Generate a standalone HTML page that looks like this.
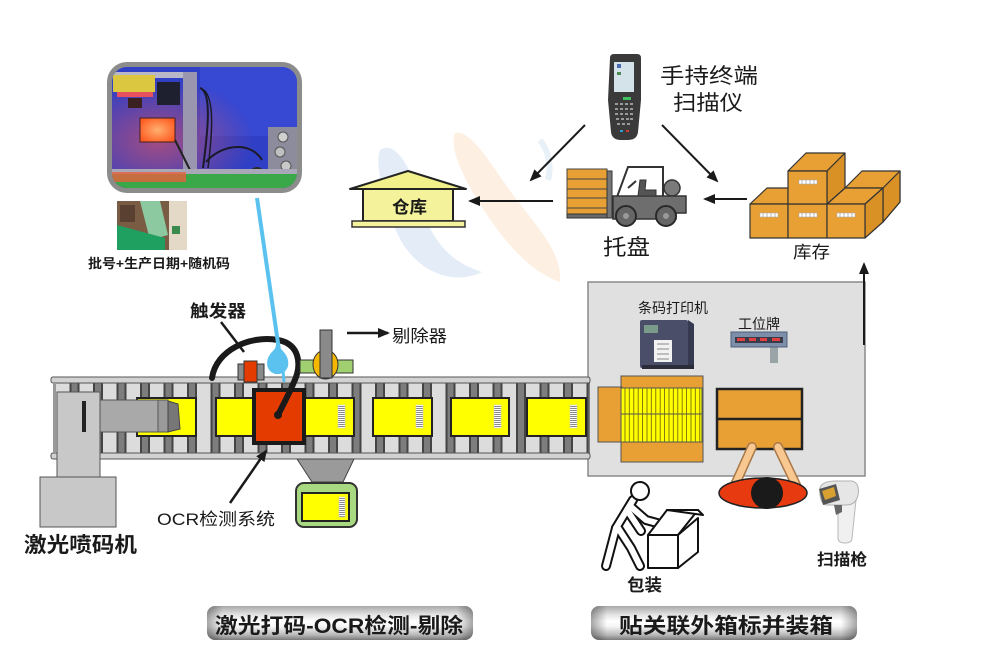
<!DOCTYPE html>
<html><head><meta charset="utf-8">
<style>
html,body{margin:0;padding:0;background:#fff;}
svg{display:block;}
text{font-family:"Liberation Sans","Noto Sans CJK SC","WenQuanYi Zen Hei",sans-serif;fill:#1a1a1a;}
</style></head><body>
<svg width="982" height="660" viewBox="0 0 982 660" xmlns="http://www.w3.org/2000/svg">
<defs>
 <pattern id="roll" x="140" y="0" width="23.5" height="200" patternUnits="userSpaceOnUse">
   <rect x="0" y="0" width="23.5" height="200" fill="#dcdcdc"/>
   <rect x="0" y="0" width="2" height="200" fill="#444"/>
   <rect x="2" y="0" width="6" height="200" fill="#7d7d7d"/>
   <rect x="8" y="0" width="2" height="200" fill="#444"/>
 </pattern>
 <pattern id="bc" x="0" y="0" width="10" height="2" patternUnits="userSpaceOnUse">
   <rect width="10" height="2" fill="#fff"/>
   <rect y="0" width="10" height="1" fill="#8a8a8a"/>
 </pattern>
 <pattern id="stripes" x="621" y="0" width="4.4" height="10" patternUnits="userSpaceOnUse">
   <rect width="4.4" height="10" fill="#ffff00"/>
   <rect x="3.6" width="0.8" height="10" fill="#6a5a10"/>
 </pattern>
 <linearGradient id="btnv" x1="0" y1="0" x2="0" y2="1">
   <stop offset="0" stop-color="#a8a8a8"/>
   <stop offset="0.25" stop-color="#e2e2e2"/>
   <stop offset="0.45" stop-color="#ffffff"/>
   <stop offset="0.6" stop-color="#f6f6f6"/>
   <stop offset="0.85" stop-color="#b8b8b8"/>
   <stop offset="1" stop-color="#7a7a7a"/>
 </linearGradient>
 <linearGradient id="btnh" x1="0" y1="0" x2="1" y2="0">
   <stop offset="0" stop-color="#000" stop-opacity="0.35"/>
   <stop offset="0.06" stop-color="#000" stop-opacity="0"/>
   <stop offset="0.94" stop-color="#000" stop-opacity="0"/>
   <stop offset="1" stop-color="#000" stop-opacity="0.35"/>
 </linearGradient>
 <radialGradient id="glow" cx="0.25" cy="0.6" r="0.5">
   <stop offset="0" stop-color="#c05070" stop-opacity="0.8"/>
   <stop offset="1" stop-color="#c05070" stop-opacity="0"/>
 </radialGradient>
 <radialGradient id="olight" cx="0.5" cy="0.5" r="0.6">
   <stop offset="0" stop-color="#ffb070"/>
   <stop offset="1" stop-color="#ff5a20"/>
 </radialGradient>
 <clipPath id="ph"><rect x="112" y="67" width="185" height="121" rx="15"/></clipPath>
 <marker id="ah" markerWidth="12" markerHeight="10" refX="10" refY="5" orient="auto" markerUnits="userSpaceOnUse">
   <path d="M0,0 L12,5 L0,10 Z" fill="#1a1a1a"/>
 </marker>
</defs>

<rect width="982" height="660" fill="#fff"/>

<!-- watermark -->
<path d="M380,150 C395,140 410,165 420,200 C430,240 450,262 482,272 C450,288 410,268 395,228 C385,198 374,166 380,150 Z" fill="#e4edf7"/>
<path d="M455,133 C472,128 495,172 520,204 C545,236 562,256 560,282 C530,272 505,242 485,212 C468,186 448,150 455,133 Z" fill="#fdf0e2"/>
<path d="M540,140 C548,150 552,165 548,180" stroke="#e8f0f8" stroke-width="6" fill="none"/>

<!-- photo -->
<rect x="107" y="62" width="195" height="131" rx="20" fill="#8c8c8c"/>
<g clip-path="url(#ph)">
  <rect x="111" y="66" width="190" height="125" fill="#2f3fc6"/>
  <rect x="200" y="66" width="100" height="70" fill="#3748d2"/>
  <rect x="111" y="66" width="190" height="125" fill="url(#glow)"/>
  <rect x="113" y="72" width="78" height="6" fill="#b8b8c8"/>
  <rect x="113" y="75" width="42" height="17" fill="#dcc840"/>
  <rect x="117" y="92" width="36" height="5" fill="#e85060"/>
  <rect x="128" y="98" width="14" height="10" fill="#3a2020"/>
  <rect x="157" y="82" width="23" height="23" fill="#1e2030"/>
  <rect x="183" y="72" width="14" height="100" fill="#9a96b0"/>
  <rect x="140" y="118" width="35" height="24" fill="url(#olight)" stroke="#402020" stroke-width="1"/>
  <path d="M175,140 C180,150 185,160 190,170" stroke="#222" stroke-width="2" fill="none"/>
  <path d="M200,88 C212,92 208,130 203,168" stroke="#1a1a2a" stroke-width="2" fill="none"/>
  <path d="M204,90 C215,100 212,135 208,168" stroke="#1a1a2a" stroke-width="1.5" fill="none"/>
  <path d="M206,162 C220,145 250,140 262,160" stroke="#1a1a2a" stroke-width="2" fill="none"/>
  <rect x="268" y="127" width="30" height="58" fill="#8c8c9c"/>
  <circle cx="283" cy="137" r="5" fill="#d0d0d0" stroke="#555"/>
  <circle cx="280" cy="152" r="5" fill="#c0c0c0" stroke="#555"/>
  <circle cx="286" cy="166" r="5" fill="#c8c8c8" stroke="#555"/>
  <circle cx="257" cy="175" r="8" fill="#2a2a2a"/>
  <circle cx="257" cy="175" r="3" fill="#999"/>
  <rect x="111" y="169" width="190" height="5" fill="#a8a8b8"/>
  <rect x="111" y="174" width="190" height="17" fill="#3aa848"/>
  <rect x="111" y="172" width="75" height="10" fill="#e86040" opacity="0.8"/>
</g>

<!-- small photo -->
<rect x="117" y="201" width="70" height="49" fill="#7a5c44"/>
<path d="M140,201 L160,201 L168,235 L150,240 Z" fill="#8cc8a0"/>
<rect x="169" y="201" width="18" height="49" fill="#e4d8c6"/>
<rect x="172" y="226" width="8" height="8" fill="#3a8a50"/>
<path d="M117,225 L165,238 L165,250 L117,250 Z" fill="#20a060"/>
<path d="M120,205 L135,205 L135,222 L120,222 Z" fill="#5a4030"/>

<text x="88" y="268" font-size="13" font-weight="bold" textLength="142" lengthAdjust="spacingAndGlyphs">批号+生产日期+随机码</text>

<!-- handheld terminal -->
<path d="M610,58 Q610,54 614,54 L637,54 Q641,54 641,58 L641,100 L638,132 Q637,140 628,140 L621,140 Q612,140 611,132 L608,100 Z" fill="#3a3a3a"/>
<rect x="614" y="62" width="20" height="30" fill="#d4e2ea"/>
<rect x="617" y="64" width="4" height="4" fill="#4a6ab0"/>
<rect x="617" y="72" width="4" height="3" fill="#4a8a50"/>
<rect x="623" y="97" width="8" height="3" fill="#40c060"/>
<g fill="#9a9a9a">
  <rect x="615" y="103" width="3" height="2"/><rect x="620" y="103" width="3" height="2"/><rect x="625" y="103" width="3" height="2"/><rect x="630" y="103" width="3" height="2"/>
  <rect x="615" y="108" width="3" height="2"/><rect x="620" y="108" width="3" height="2"/><rect x="625" y="108" width="3" height="2"/><rect x="630" y="108" width="3" height="2"/>
  <rect x="615" y="113" width="3" height="2"/><rect x="620" y="113" width="3" height="2"/><rect x="625" y="113" width="3" height="2"/><rect x="630" y="113" width="3" height="2"/>
  <rect x="616" y="118" width="3" height="2"/><rect x="621" y="118" width="3" height="2"/><rect x="626" y="118" width="3" height="2"/><rect x="630" y="118" width="3" height="2"/>
  <rect x="617" y="123" width="3" height="2"/><rect x="622" y="123" width="3" height="2"/><rect x="627" y="123" width="3" height="2"/>
</g>
<rect x="620" y="130" width="3" height="2" fill="#30a0d0"/><rect x="626" y="130" width="3" height="2" fill="#d04030"/>
<text x="660" y="83" font-size="21" textLength="98" lengthAdjust="spacingAndGlyphs">手持终端</text>
<text x="673" y="110" font-size="21" textLength="70" lengthAdjust="spacingAndGlyphs">扫描仪</text>

<!-- top arrows -->
<line x1="585" y1="125" x2="531" y2="180" stroke="#1a1a1a" stroke-width="2" marker-end="url(#ah)"/>
<line x1="662" y1="125" x2="717" y2="181" stroke="#1a1a1a" stroke-width="2" marker-end="url(#ah)"/>
<line x1="747" y1="199" x2="705" y2="199" stroke="#1a1a1a" stroke-width="2" marker-end="url(#ah)"/>
<line x1="553" y1="201" x2="470" y2="201" stroke="#1a1a1a" stroke-width="2" marker-end="url(#ah)"/>

<!-- warehouse -->
<polygon points="350,189 408,171 466,189" fill="#f2f08a" stroke="#222" stroke-width="2" stroke-linejoin="round"/>
<rect x="363" y="189" width="90" height="32" fill="#f4f29a" stroke="#222" stroke-width="2"/>
<rect x="352" y="221" width="113" height="6" fill="#f4f29a" stroke="#333" stroke-width="1.5"/>
<text x="392" y="213" font-size="17" font-weight="bold" textLength="35" lengthAdjust="spacingAndGlyphs">仓库</text>

<!-- forklift -->
<rect x="567" y="169" width="40" height="49" fill="#e8a035" stroke="#444" stroke-width="1"/>
<g stroke="#444" stroke-width="1">
  <line x1="567" y1="179" x2="607" y2="179"/><line x1="567" y1="189" x2="607" y2="189"/>
  <line x1="567" y1="198" x2="607" y2="198"/><line x1="567" y1="208" x2="607" y2="208"/>
</g>
<rect x="567" y="214" width="46" height="4" fill="#6a6a6a" stroke="#333" stroke-width="1"/>
<rect x="607" y="171" width="5" height="47" fill="#777" stroke="#333" stroke-width="1"/>
<path d="M617,197 L628,167 L663,167 L663,197" fill="none" stroke="#333" stroke-width="2"/>
<circle cx="672" cy="188" r="8" fill="#7a7a7a" stroke="#333" stroke-width="1.5"/>
<polygon points="613,196 686,196 686,213 676,213 676,219 613,219" fill="#6e6e6e" stroke="#333" stroke-width="1.5"/>
<path d="M638,196 L640,180 L646,180 L645,190 L656,190 L656,196 Z" fill="#555" stroke="#333"/>
<line x1="628" y1="188" x2="636" y2="181" stroke="#333" stroke-width="2"/>
<circle cx="626" cy="216" r="10" fill="#666" stroke="#2a2a2a" stroke-width="2"/>
<circle cx="666" cy="216" r="10" fill="#666" stroke="#2a2a2a" stroke-width="2"/>
<circle cx="626" cy="216" r="3" fill="#999"/>
<circle cx="666" cy="216" r="3" fill="#999"/>
<text x="603" y="255" font-size="22" textLength="47" lengthAdjust="spacingAndGlyphs">托盘</text>

<!-- inventory boxes -->
<g stroke="#333" stroke-width="1.2" fill="#e8a035" stroke-linejoin="round">
  <polygon points="845,188 862,171 900,171 900,202 883,222 883,188"/>
  <polygon points="883,188 900,171 900,202 883,222" fill="#d99025"/>
  <polygon points="750,204 767,188 788,188 788,204"/>
  <polygon points="827,204 845,188 883,188 865,204"/>
  <polygon points="865,204 883,188 883,222 865,238" fill="#d99025"/>
  <rect x="750" y="204" width="38" height="34"/>
  <rect x="788" y="204" width="39" height="34"/>
  <rect x="827" y="204" width="38" height="34"/>
  <polygon points="788,171 806,153 845,153 827,171"/>
  <polygon points="827,171 845,153 845,188 827,204" fill="#d99025"/>
  <rect x="788" y="171" width="39" height="33"/>
</g>
<g stroke="#aaa" stroke-width="0.5" fill="#fff">
  <rect x="760" y="213" width="18" height="4"/>
  <rect x="799" y="213" width="18" height="4"/>
  <rect x="837" y="213" width="18" height="4"/>
  <rect x="799" y="180" width="18" height="4"/>
</g>
<g stroke="#888" stroke-width="0.6">
  <line x1="763" y1="213" x2="763" y2="217"/><line x1="767" y1="213" x2="767" y2="217"/><line x1="771" y1="213" x2="771" y2="217"/><line x1="775" y1="213" x2="775" y2="217"/>
  <line x1="802" y1="213" x2="802" y2="217"/><line x1="806" y1="213" x2="806" y2="217"/><line x1="810" y1="213" x2="810" y2="217"/><line x1="814" y1="213" x2="814" y2="217"/>
  <line x1="840" y1="213" x2="840" y2="217"/><line x1="844" y1="213" x2="844" y2="217"/><line x1="848" y1="213" x2="848" y2="217"/><line x1="852" y1="213" x2="852" y2="217"/>
  <line x1="802" y1="180" x2="802" y2="184"/><line x1="806" y1="180" x2="806" y2="184"/><line x1="810" y1="180" x2="810" y2="184"/><line x1="814" y1="180" x2="814" y2="184"/>
</g>
<text x="793" y="258" font-size="17" textLength="37" lengthAdjust="spacingAndGlyphs">库存</text>

<!-- gray panel -->
<rect x="588" y="282" width="277" height="194" fill="#e0e0e0" stroke="#8a8a8a" stroke-width="1.5"/>
<line x1="864" y1="345" x2="864" y2="264" stroke="#1a1a1a" stroke-width="2" marker-end="url(#ah)"/>

<!-- printer -->
<text x="638" y="313" font-size="14" textLength="70" lengthAdjust="spacingAndGlyphs">条码打印机</text>
<rect x="640" y="320" width="48" height="48" fill="#4a4e68" rx="2"/>
<polygon points="688,320 694,324 694,366 688,368" fill="#363a50"/>
<rect x="644" y="325" width="14" height="8" fill="#7a9a8a"/>
<rect x="654" y="340" width="18" height="22" fill="#f2f2f2"/>
<g stroke="#888" stroke-width="1"><line x1="657" y1="344" x2="669" y2="344"/><line x1="657" y1="349" x2="669" y2="349"/><line x1="657" y1="354" x2="669" y2="354"/><line x1="657" y1="359" x2="669" y2="359"/></g>
<rect x="642" y="365" width="52" height="4" fill="#2a2c3a"/>

<!-- station sign -->
<text x="738" y="329" font-size="14" textLength="42" lengthAdjust="spacingAndGlyphs">工位牌</text>
<rect x="770" y="346" width="8" height="17" fill="#9aa4a8"/>
<rect x="731" y="332" width="56" height="15" fill="#7d8eab" stroke="#50607a" stroke-width="1"/>
<rect x="735" y="337" width="48" height="6" fill="#3a3a4a"/>
<g fill="#e04040"><rect x="737" y="338" width="8" height="3"/><rect x="749" y="338" width="7" height="3"/><rect x="760" y="338" width="7" height="3"/><rect x="772" y="338" width="8" height="3"/></g>

<!-- packing boxes in panel -->
<rect x="621" y="376" width="82" height="86" fill="#e8a035" stroke="#555" stroke-width="1"/>
<rect x="598" y="387" width="24" height="55" fill="#e8a035" stroke="#555" stroke-width="1"/>
<rect x="621" y="388" width="81" height="54" fill="url(#stripes)" stroke="#555" stroke-width="1"/>
<line x1="621" y1="414" x2="702" y2="414" stroke="#555" stroke-width="1"/>
<rect x="717" y="389" width="85" height="60" fill="#e8a035" stroke="#222" stroke-width="2.5"/>
<line x1="717" y1="419" x2="802" y2="419" stroke="#222" stroke-width="2.5"/>

<!-- worker -->
<g stroke-linecap="round">
  <line x1="752" y1="447" x2="734" y2="487" stroke="#a87848" stroke-width="10"/>
  <line x1="778" y1="447" x2="797" y2="487" stroke="#a87848" stroke-width="10"/>
  <line x1="752" y1="447" x2="734" y2="487" stroke="#f8c890" stroke-width="7"/>
  <line x1="778" y1="447" x2="797" y2="487" stroke="#f8c890" stroke-width="7"/>
</g>
<ellipse cx="763" cy="493" rx="44" ry="15" fill="#e83a10" stroke="#222" stroke-width="1.5"/>
<circle cx="767" cy="493" r="16" fill="#1a1a1a"/>

<!-- packing person icon -->
<g fill="none" stroke-linecap="round" stroke-linejoin="round">
  <g stroke="#111" stroke-width="10">
    <path d="M633,500 L616,528"/>
    <path d="M616,528 L606,566"/>
    <path d="M618,528 L631,548 L640,566"/>
    <path d="M630,506 L646,520 L657,523"/>
    <path d="M627,510 L641,531"/>
  </g>
  <g stroke="#fff" stroke-width="6">
    <path d="M633,500 L616,528"/>
    <path d="M616,528 L606,566"/>
    <path d="M618,528 L631,548 L640,566"/>
    <path d="M630,506 L646,520 L657,523"/>
    <path d="M627,510 L641,531"/>
  </g>
</g>
<circle cx="640" cy="491" r="9" fill="#fff" stroke="#111" stroke-width="2"/>
<g fill="#fff" stroke="#111" stroke-width="2" stroke-linejoin="round">
  <polygon points="667,510 698,510 678,535 648,535"/>
  <polygon points="678,535 698,518 698,552 678,568"/>
  <rect x="648" y="535" width="30" height="33"/>
  <polygon points="667,510 698,510 703,515"/>
</g>
<text x="627" y="591" font-size="17" font-weight="bold" textLength="35" lengthAdjust="spacingAndGlyphs">包装</text>

<!-- scanner gun -->
<path d="M838,500 L838,538 Q838,543 845,543 Q852,543 852,538 L856,500 Z" fill="#f0f0f0" stroke="#b8b8b8" stroke-width="1"/>
<path d="M820,488 Q822,481 836,481 L852,481 Q860,483 858,495 Q856,505 846,505 L826,505 Q819,503 820,488 Z" fill="#e6e6e6" stroke="#b0b0b0" stroke-width="1"/>
<polygon points="819,489 836,484 840,500 823,505" fill="#555"/>
<polygon points="822,491 834,487 836,496 825,500" fill="#d8a030"/>
<path d="M834,505 L836,515 L842,512 L842,505 Z" fill="#666"/>
<text x="817" y="565" font-size="16" font-weight="bold" textLength="50" lengthAdjust="spacingAndGlyphs">扫描枪</text>

<!-- conveyor -->
<rect x="53" y="383" width="537" height="70" fill="url(#roll)"/>
<line x1="53" y1="383" x2="590" y2="383" stroke="#555" stroke-width="1"/>
<line x1="53" y1="453" x2="590" y2="453" stroke="#555" stroke-width="1"/>
<rect x="51" y="377" width="539" height="6" rx="2" fill="#d2d2d2" stroke="#555" stroke-width="1"/>
<rect x="51" y="453" width="539" height="6" rx="2" fill="#d2d2d2" stroke="#555" stroke-width="1"/>
<rect x="53" y="383" width="3" height="70" fill="#999"/>

<!-- boxes on conveyor -->
<g fill="#ffff00" stroke="#222" stroke-width="2">
  <rect x="137" y="398" width="59" height="38"/>
  <rect x="216" y="398" width="138" height="38"/>
  <rect x="373" y="398" width="59" height="38"/>
  <rect x="451" y="398" width="58" height="38"/>
  <rect x="527" y="398" width="59" height="38"/>
</g>
<g stroke="#ccc" stroke-width="0.5">
  <rect x="338" y="405" width="7" height="23" fill="url(#bc)"/>
  <rect x="416" y="405" width="7" height="23" fill="url(#bc)"/>
  <rect x="494" y="405" width="7" height="23" fill="url(#bc)"/>
  <rect x="570" y="405" width="7" height="23" fill="url(#bc)"/>
</g>

<!-- laser coder -->
<rect x="100" y="400" width="58" height="32" fill="#a9a9a9" stroke="#555" stroke-width="1"/>
<rect x="158" y="400" width="10" height="32" fill="#9a9a9a" stroke="#555" stroke-width="1"/>
<polygon points="168,401 178,404 180,429 168,432" fill="#777" stroke="#444" stroke-width="1"/>
<rect x="57" y="392" width="43" height="86" fill="#c8c8c8" stroke="#555" stroke-width="1"/>
<rect x="82" y="401" width="4" height="31" fill="#222"/>
<rect x="40" y="477" width="76" height="50" fill="#c8c8c8" stroke="#555" stroke-width="1"/>
<text x="24" y="552" font-size="21" font-weight="bold" textLength="113" lengthAdjust="spacingAndGlyphs">激光喷码机</text>

<!-- rejector hopper -->
<polygon points="297,459 354,459 343,482 312,482" fill="#9a9a9a" stroke="#444" stroke-width="1"/>
<rect x="296" y="483" width="61" height="44" rx="8" fill="#a8d880" stroke="#333" stroke-width="2"/>
<rect x="302" y="493" width="47" height="28" fill="#ffff00" stroke="#222" stroke-width="2"/>
<rect x="339" y="497" width="6" height="20" fill="url(#bc)" stroke="#ccc" stroke-width="0.5"/>

<!-- OCR box -->
<rect x="254" y="390" width="50" height="53" fill="#e43c00" stroke="#1a1a1a" stroke-width="4"/>

<!-- trigger -->
<rect x="238" y="364" width="26" height="16" fill="#8a8a8a" stroke="#333" stroke-width="1"/>
<rect x="244" y="361" width="13" height="21" fill="#e43c00" stroke="#333" stroke-width="1"/>

<!-- cable -->
<path d="M212,378 C216,350 250,335 278,340 C300,344 302,365 294,382 C289,394 283,405 278,415" fill="none" stroke="#1a1a1a" stroke-width="6" stroke-linecap="round"/>
<circle cx="278" cy="415" r="4" fill="#1a1a1a"/>

<!-- blue link line -->
<line x1="257" y1="198" x2="279" y2="350" stroke="#5bc2f0" stroke-width="4"/>
<path d="M276,344 C282,350 290,356 288,366 C286,374 276,377 270,371 C265,365 267,357 272,352 C275,349 276,347 276,344 Z" fill="#5bc2f0"/>
<line x1="283" y1="370" x2="284" y2="382" stroke="#5bc2f0" stroke-width="3"/>

<!-- rejector -->
<rect x="300" y="360" width="53" height="13" fill="#a0d070" stroke="#333" stroke-width="1"/>
<ellipse cx="325.5" cy="364.5" rx="12.5" ry="14.5" fill="#f5b800" stroke="#333" stroke-width="1"/>
<rect x="320" y="330" width="12" height="48" fill="#8a8a8a" stroke="#333" stroke-width="1"/>
<line x1="347" y1="333" x2="388" y2="333" stroke="#1a1a1a" stroke-width="2.5" marker-end="url(#ah)"/>
<text x="392" y="342" font-size="17" textLength="55" lengthAdjust="spacingAndGlyphs">剔除器</text>

<!-- trigger label -->
<text x="190" y="317" font-size="17" font-weight="bold" textLength="56" lengthAdjust="spacingAndGlyphs">触发器</text>
<line x1="221" y1="322" x2="244" y2="352" stroke="#1a1a1a" stroke-width="2.5"/>

<!-- OCR label -->
<line x1="230" y1="503" x2="266" y2="451" stroke="#1a1a1a" stroke-width="2.5" marker-end="url(#ah)"/>
<text x="157" y="525" font-size="17" textLength="118" lengthAdjust="spacingAndGlyphs">OCR检测系统</text>

<!-- bottom buttons -->
<rect x="207" y="606" width="266" height="34" rx="8" fill="url(#btnv)"/>
<rect x="207" y="606" width="266" height="34" rx="8" fill="url(#btnh)"/>
<text x="215" y="633" font-size="21" font-weight="bold" textLength="248" lengthAdjust="spacingAndGlyphs">激光打码-OCR检测-剔除</text>
<rect x="591" y="606" width="266" height="34" rx="8" fill="url(#btnv)"/>
<rect x="591" y="606" width="266" height="34" rx="8" fill="url(#btnh)"/>
<text x="619" y="633" font-size="21" font-weight="bold" textLength="214" lengthAdjust="spacingAndGlyphs">贴关联外箱标并装箱</text>
</svg>
</body></html>
